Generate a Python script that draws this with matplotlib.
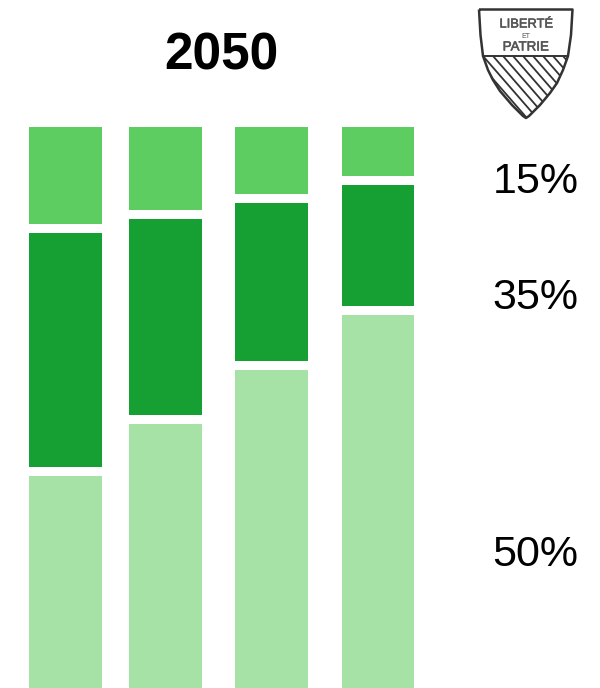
import matplotlib
matplotlib.use('Agg')
import matplotlib.pyplot as plt
import matplotlib.patheffects as pe
from matplotlib.patches import Polygon
from matplotlib.patches import PathPatch
from matplotlib.path import Path

plt.rcParams['font.family'] = ['Liberation Sans', 'DejaVu Sans']

# share of each bar in percent, bottom to top
light = [39.0, 48.6, 58.6, 68.7]
dark = [43.1, 36.1, 29.1, 22.3]
mid = [17.9, 15.3, 12.3, 9.0]
colors = ['#a6e2a6', '#16a034', '#5dcc61']

title = '2050'
side_labels = ['15%', '35%', '50%']
side_base = [193, 309, 566]

W, H = 600, 688
bar_left = [29, 129, 235, 342]
bar_w = [73, 73, 73, 72]
top_px, bottom_px = 127, 688
gap = 9 / 543 * 100

fig = plt.figure(figsize=(6, 6.88), dpi=100)

# bars, y axis in percent with the white gaps added
ax = fig.add_axes([0, 0, 1, (bottom_px - top_px) / H])
ax.set_xlim(0, W)
ax.set_ylim(0, 100 + 2 * gap)
ax.axis('off')
for i in range(len(light)):
    y = 0
    for vals, c in zip([light, dark, mid], colors):
        ax.bar(bar_left[i], vals[i], bottom=y, width=bar_w[i], align='edge', color=c, linewidth=0)
        y += vals[i] + gap

# overlay in pixel coordinates for texts and shield
ov = fig.add_axes([0, 0, 1, 1])
ov.set_xlim(0, W)
ov.set_ylim(H, 0)
ov.axis('off')
ov.patch.set_alpha(0)

ov.text(221, 70, title, fontsize=37, fontweight='bold', ha='center', va='baseline', color='black')
for s, y in zip(side_labels, side_base):
    ov.text(535.5, y, s, fontsize=31, ha='center', va='baseline', color='black')

# shield
verts = [(479, 9.5), (572.5, 9.5), (571, 35), (568, 56), (563, 70), (557, 83), (550, 93),
         (540, 105), (529, 116), (526, 118), (523, 116), (512, 105), (500, 91),
         (493, 80), (488, 70), (483, 56), (480.5, 35), (479, 9.5)]
codes = [Path.MOVETO] + [Path.LINETO] * (len(verts) - 1)
shield = Path(verts, codes)
ov.add_patch(PathPatch(shield, facecolor='white', edgecolor='none', zorder=3))

clip = PathPatch(shield, transform=ov.transData)
for x0 in range(403, 590, 10):
    ln, = ov.plot([x0, x0 + 80], [56, 148], color='#333333', lw=1.3, zorder=4, solid_capstyle='butt')
    ln.set_clip_path(clip)
ov.add_patch(Polygon([(478, 9), (574, 9), (574, 56), (478, 56)], closed=True, facecolor='white', edgecolor='none', zorder=5))
ov.plot([483, 568], [56, 56], color='#333333', lw=1.4, zorder=6)
ov.add_patch(PathPatch(shield, facecolor='none', edgecolor='#333333', linewidth=1.8, joinstyle='round', zorder=7))

stroke = [pe.withStroke(linewidth=0.4, foreground='#555555')]
ov.text(526, 23, 'LIBERTÉ', fontsize=9.3, color='#555555', ha='center', va='center_baseline', zorder=8, path_effects=stroke)
ov.text(526, 35, 'ET', fontsize=5, color='#555555', ha='center', va='center_baseline', zorder=8)
ov.text(526, 46, 'PATRIE', fontsize=9.6, color='#555555', ha='center', va='center_baseline', zorder=8, path_effects=stroke)

fig.savefig('out.png', dpi=100)
